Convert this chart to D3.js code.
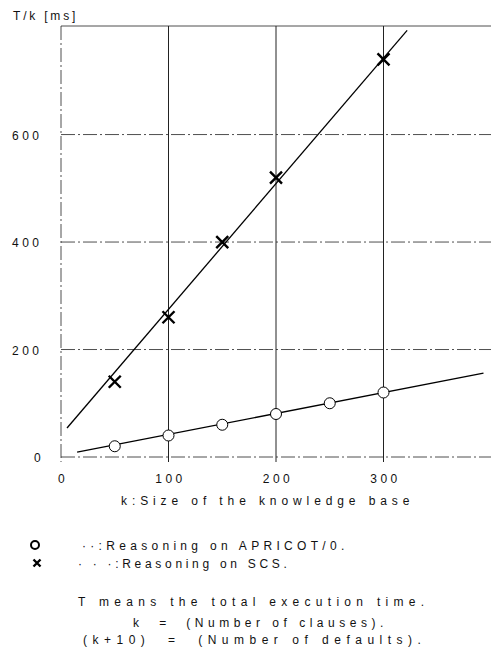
<!DOCTYPE html>
<html><head><meta charset="utf-8">
<script src="https://cdn.jsdelivr.net/npm/d3@7"></script>
<style>body{margin:0;background:#fff}text{font-family:"Liberation Sans",Arial,sans-serif;fill:#111}</style>
</head><body><svg id="c" width="491" height="648"></svg>
<script>
const xTicks=[0,100,200,300];
const yTicks=[0,200,400,600];
const apricotK=[50,100,150,200,250,300];
const apricotT=[20,40,60,80,100,120];
const scsK=[50,100,150,200,300];
const scsT=[140,260,400,520,740];
const apricotFit=[[15,9],[393,156]];
const scsFit=[[5.6,54],[322,794]];
const yLabel="T/k [ms]";
const xLabel="k:Size of the knowledge base";
const legend=["··:Reasoning on APRICOT/0.","· · ·:Reasoning on SCS."];
const notes=["T means the total execution time.","k  =  (Number of clauses).","(k+10)  =  (Number of defaults)."];

const svg=d3.select("#c");
const x=d3.scaleLinear().domain([0,400]).range([61,491]);
const y=d3.scaleLinear().domain([0,802]).range([457,26]);
const g=svg.append("g");
// grid
g.selectAll(".hg").data(yTicks).join("line").attr("x1",x(0)).attr("x2",491)
 .attr("y1",d=>y(d)).attr("y2",d=>y(d)).attr("stroke","#222").attr("stroke-width",0.8)
 .attr("stroke-dasharray","14,3,2,3");
g.append("line").attr("x1",x(0)).attr("x2",491).attr("y1",y(802)).attr("y2",y(802))
 .attr("stroke","#222").attr("stroke-width",0.8);
g.selectAll(".vg").data(xTicks).join("line").attr("x1",d=>x(d)).attr("x2",d=>x(d))
 .attr("y1",y(802)).attr("y2",y(0)+5).attr("stroke","#222").attr("stroke-width",d=>d===0?0.8:1)
 .attr("stroke-dasharray",d=>d===0?"14,3,2,3":null);
// tick labels
g.selectAll(".yt").data(yTicks).join("text").attr("x",12).attr("y",d=>y(d)+5)
 .attr("font-size",12).attr("letter-spacing",3.5).text(d=>d)
 .attr("dx",d=>d===0?22:0);
g.selectAll(".xt").data(xTicks).join("text").attr("x",d=>x(d)+2).attr("y",483)
 .attr("text-anchor","middle").attr("font-size",12).attr("letter-spacing",3.5).text(d=>d);
svg.append("text").attr("x",13).attr("y",20).attr("font-size",12).attr("letter-spacing",2.8).text(yLabel);
svg.append("text").attr("x",121).attr("y",505).attr("font-size",12).attr("letter-spacing",4.9).text(xLabel);
// fit lines
const line=d3.line().x(d=>x(d[0])).y(d=>y(d[1]));
g.append("path").attr("d",line(scsFit)).attr("stroke","#000").attr("stroke-width",1.3).attr("fill","none");
g.append("path").attr("d",line(apricotFit)).attr("stroke","#000").attr("stroke-width",1.3).attr("fill","none");
// markers
g.selectAll(".ap").data(apricotK).join("circle").attr("cx",d=>x(d)).attr("cy",(d,i)=>y(apricotT[i]))
 .attr("r",5.5).attr("fill","#fff").attr("stroke","#000").attr("stroke-width",1);
const cross=(sel,s,w)=>sel.append("path").attr("d",`M${-s},${-s}L${s},${s}M${-s},${s}L${s},${-s}`)
 .attr("stroke","#000").attr("stroke-width",w).attr("fill","none");
scsK.forEach((k,i)=>{const c=g.append("g").attr("transform",`translate(${x(k)},${y(scsT[i])})`);cross(c,6,2.4);});
// legend
svg.append("circle").attr("cx",35).attr("cy",545).attr("r",4).attr("fill","none").attr("stroke","#000").attr("stroke-width",2);
cross(svg.append("g").attr("transform","translate(37,563)"),3.5,2.4);
svg.append("text").attr("x",82).attr("y",550).attr("font-size",12).attr("letter-spacing",4.3).text(legend[0]);
svg.append("text").attr("x",78).attr("y",568).attr("font-size",12).attr("letter-spacing",3.7).text(legend[1]);
svg.append("text").attr("x",78).attr("y",606).attr("font-size",12).attr("letter-spacing",5.3).text(notes[0]);
svg.append("text").attr("x",133).attr("y",627).attr("font-size",12).attr("letter-spacing",4.5).text(notes[1]).style("white-space","pre");
svg.append("text").attr("x",83).attr("y",644).attr("font-size",12).attr("letter-spacing",5.5).text(notes[2]).style("white-space","pre");
</script></body></html>
